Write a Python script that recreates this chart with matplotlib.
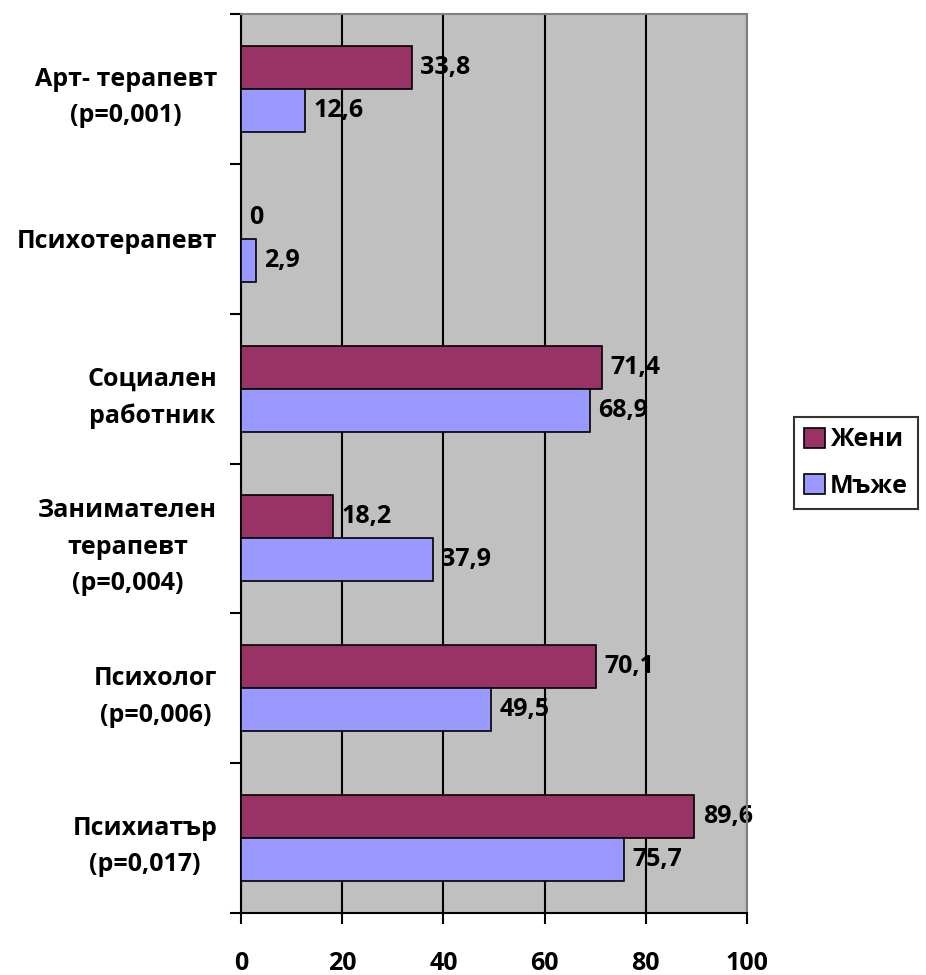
import matplotlib
matplotlib.use("Agg")
import matplotlib.pyplot as plt
import numpy as np

categories = ["Психиатър\n(p=0,017)", "Психолог\n(p=0,006)", "Занимателен\nтерапевт\n(p=0,004)",
              "Социален\nработник", "Психотерапевт", "Арт- терапевт\n(p=0,001)"]
women = [89.6, 70.1, 18.2, 71.4, 0, 33.8]
men = [75.7, 49.5, 37.9, 68.9, 2.9, 12.6]
value_labels_w = ["89,6", "70,1", "18,2", "71,4", "0", "33,8"]
value_labels_m = ["75,7", "49,5", "37,9", "68,9", "2,9", "12,6"]
xticks = [0, 20, 40, 60, 80, 100]

plt.rcParams['font.family'] = ['Open Sans', 'DejaVu Sans']
plt.rcParams['font.weight'] = 'bold'
FS = 18

fig = plt.figure(figsize=(9.26, 9.75), dpi=100)
ax = fig.add_axes([241/926, 1-913/975, (747-241)/926, (913-14)/975])
ax.set_facecolor('#C0C0C0')

y = np.arange(len(categories))
h = 0.287
bw = ax.barh(y + h/2, women, height=h, color='#993366', edgecolor='black', linewidth=1.2, label='Жени', zorder=3)
bm = ax.barh(y - h/2, men, height=h, color='#9999FF', edgecolor='black', linewidth=1.2, label='Мъже', zorder=3)

for yi, v, s in zip(y, women, value_labels_w):
    ax.annotate(s, (v, yi + h/2), xytext=(6, 0), textcoords='offset points', va='center', ha='left',
                fontsize=FS, fontweight='bold', zorder=0.3)
for yi, v, s in zip(y, men, value_labels_m):
    ax.annotate(s, (v, yi - h/2), xytext=(6, 0), textcoords='offset points', va='center', ha='left',
                fontsize=FS, fontweight='bold', zorder=0.3)

ax.set_xlim(0, 100)
ax.set_ylim(-0.5, len(categories) - 0.5)
ax.set_xticks(xticks)
ax.set_xticklabels([str(t) for t in xticks], fontsize=FS, fontweight='bold')
ax.set_yticks(y)
ax.set_yticklabels(categories, fontsize=FS, fontweight='bold', multialignment='center', linespacing=1.6)
ax.set_yticks(np.arange(-0.5, len(categories)), minor=True)
ax.tick_params(axis='y', which='major', length=0, pad=17)
ax.tick_params(axis='y', which='minor', length=8, width=1.5, color='black')
ax.tick_params(axis='x', which='major', length=8, width=1.5, pad=19)
ax.xaxis.grid(True, color='black', linewidth=1.5)
ax.set_axisbelow(True)

ax.spines['left'].set_color('black')
ax.spines['left'].set_linewidth(1.5)
ax.spines['bottom'].set_color('black')
ax.spines['bottom'].set_linewidth(1.5)
ax.spines['top'].set_color('#808080')
ax.spines['right'].set_color('#808080')
ax.spines['top'].set_linewidth(1.5)
ax.spines['right'].set_linewidth(1.5)

leg = fig.legend(handles=[bw, bm], labels=['Жени', 'Мъже'], loc='center left',
                 bbox_to_anchor=(794/926, 1-463/975), frameon=True, fancybox=False,
                 edgecolor='black', fontsize=FS, handlelength=0.85, handleheight=0.85,
                 handletextpad=0.2, borderpad=0.4, labelspacing=0.85, borderaxespad=0)
leg.get_frame().set_linewidth(1.5)
for t in leg.get_texts():
    t.set_fontweight('bold')

fig.savefig('out.png', dpi=100)
